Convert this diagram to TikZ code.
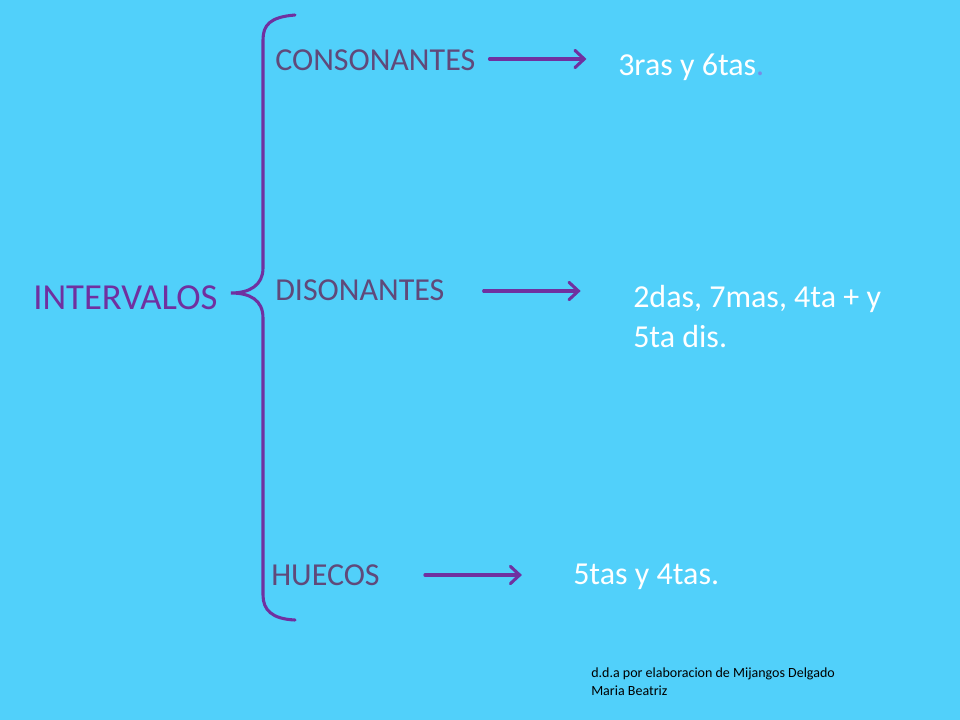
\documentclass[tikz,border=0pt]{standalone}
\usepackage{fontspec}
\setmainfont{Carlito}
\usetikzlibrary{arrows.meta,positioning}
\definecolor{fondo}{RGB}{81,208,250}
\definecolor{morado}{RGB}{112,48,160}
\definecolor{grisMorado}{RGB}{96,73,122}
\definecolor{puntoAzul}{RGB}{120,140,230}

\begin{document}
\begin{tikzpicture}[x=0.75pt, y=-0.75pt,
  tipo/.style={anchor=west, inner sep=0pt, font=\fontsize{24}{29}\selectfont, text=grisMorado},
  resp/.style={anchor=west, inner sep=0pt, font=\fontsize{24}{30}\selectfont, text=white, align=left},
  flow/.style={-{Straight Barb[length=7pt, width=13pt, line cap=round]}, line width=2.3pt, draw=morado, line cap=round},
  llave/.style={draw=morado, line width=2.3pt, line cap=round}]
\fill[fondo] (0,0) rectangle (960,720);
% titulo y llave
\node[anchor=west, inner sep=0pt, font=\fontsize{27.5}{33}\selectfont, text=morado] (tit) at (33,298) {INTERVALOS};
\draw[llave] (295,15) .. controls (270,17) and (263,25) .. (263,40)
  -- (263,268) .. controls (263,285) and (250,293) .. (231,293)
  .. controls (250,293) and (263,300) .. (263,318)
  -- (263,595) .. controls (263,610) and (272,619) .. (295,620);
% ramas
\node[tipo] (cons) at (275,60) {CONSONANTES};
\node[tipo] (dis) at (275,290) {DISONANTES};
\node[tipo] (hue) at (271,575) {HUECOS};
\node[resp] (r1) at (618,67) {3ras y 6tas\textcolor{puntoAzul}{.}};
\node[resp, anchor=north west] (r2) at (633,285) {2das, 7mas, 4ta + y\\5ta dis.};
\node[resp] (r3) at (573,577) {5tas y 4tas.};
\draw[flow] ([shift={(14,0)}]cons.east |- 0,59) -- ++(97,0);
\draw[flow] ([shift={(39,0)}]dis.east |- 0,291) -- ++(97,0);
\draw[flow] ([shift={(45,0)}]hue.east |- 0,575) -- ++(97,0);
% nota
\node[anchor=north west, inner sep=0pt, align=left, font=\fontsize{10.5}{13}\selectfont, text=black] (nota) at (591,668)
  {d.d.a por elaboracion de Mijangos Delgado\\Maria Beatriz};
\end{tikzpicture}
\end{document}
